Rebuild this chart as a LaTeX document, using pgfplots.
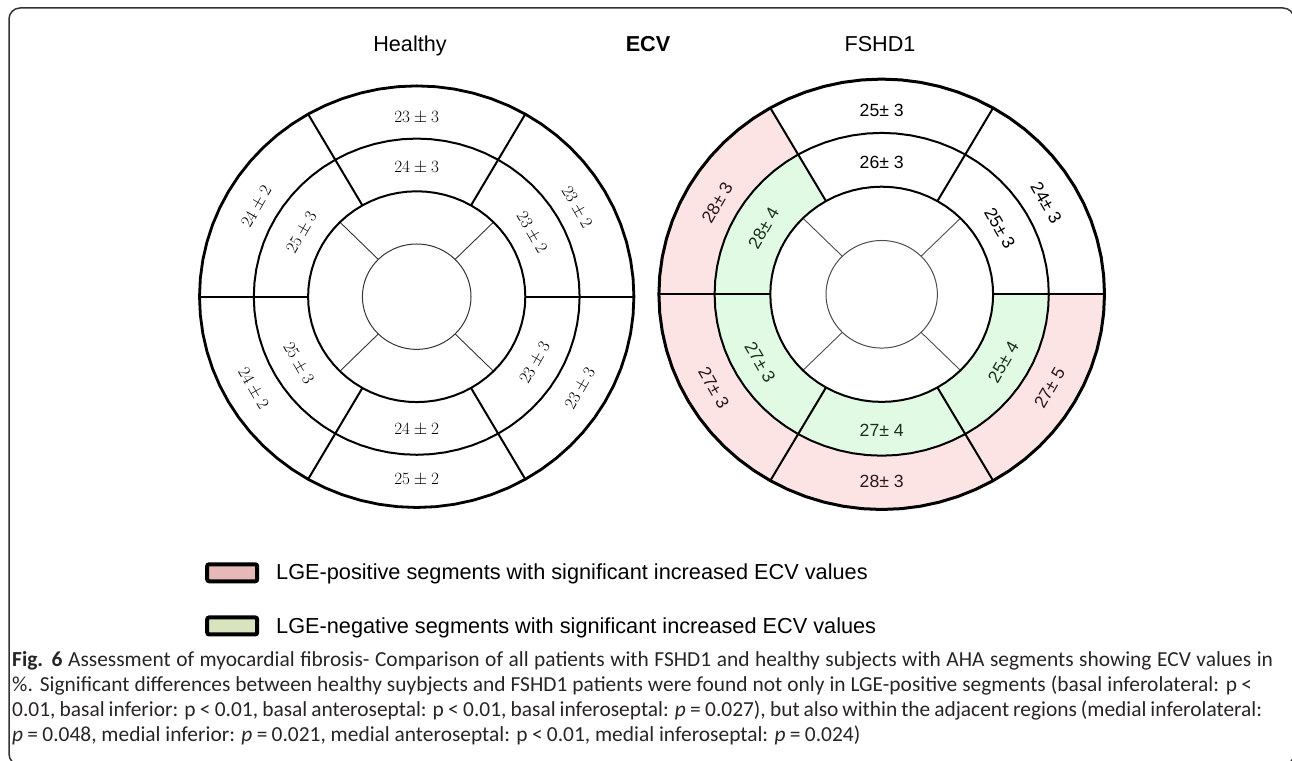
\documentclass[border=0pt]{standalone}
\usepackage[no-math]{fontspec}
\usepackage{pgfplots}
\usepackage{pgfplotstable}
\pgfplotsset{compat=1.18}
\usepgfplotslibrary{polar}
\newfontfamily\arial{Liberation Sans}
\newfontfamily\capfont{Carlito}
\definecolor{pinkfill}{RGB}{252,228,228}
\definecolor{greenfill}{RGB}{225,250,228}
\definecolor{lgpink}{RGB}{230,184,184}
\definecolor{lggreen}{RGB}{215,228,190}
\definecolor{pinktext}{RGB}{50,22,22}
\definecolor{greentext}{RGB}{22,52,28}
\definecolor{capgray}{RGB}{40,36,37}
\newcommand\pk{\color{pinktext}}
\newcommand\gr{\color{greentext}}
\newcommand\tsp{\hspace{0.2em}}

\pgfplotstableread{
a r1 r2 r3 r4
0 1 2 3 4
5 1 2 3 4
10 1 2 3 4
15 1 2 3 4
20 1 2 3 4
25 1 2 3 4
30 1 2 3 4
35 1 2 3 4
40 1 2 3 4
45 1 2 3 4
50 1 2 3 4
55 1 2 3 4
60 1 2 3 4
65 1 2 3 4
70 1 2 3 4
75 1 2 3 4
80 1 2 3 4
85 1 2 3 4
90 1 2 3 4
95 1 2 3 4
100 1 2 3 4
105 1 2 3 4
110 1 2 3 4
115 1 2 3 4
120 1 2 3 4
125 1 2 3 4
130 1 2 3 4
135 1 2 3 4
140 1 2 3 4
145 1 2 3 4
150 1 2 3 4
155 1 2 3 4
160 1 2 3 4
165 1 2 3 4
170 1 2 3 4
175 1 2 3 4
180 1 2 3 4
185 1 2 3 4
190 1 2 3 4
195 1 2 3 4
200 1 2 3 4
205 1 2 3 4
210 1 2 3 4
215 1 2 3 4
220 1 2 3 4
225 1 2 3 4
230 1 2 3 4
235 1 2 3 4
240 1 2 3 4
245 1 2 3 4
250 1 2 3 4
255 1 2 3 4
260 1 2 3 4
265 1 2 3 4
270 1 2 3 4
275 1 2 3 4
280 1 2 3 4
285 1 2 3 4
290 1 2 3 4
295 1 2 3 4
300 1 2 3 4
305 1 2 3 4
310 1 2 3 4
315 1 2 3 4
320 1 2 3 4
325 1 2 3 4
330 1 2 3 4
335 1 2 3 4
340 1 2 3 4
345 1 2 3 4
350 1 2 3 4
355 1 2 3 4
}\circtab

\pgfplotstableread[col sep=comma]{
a,r,rot,lab
90,3.40,0,$23\pm3$
30,3.40,-60,$23\pm2$
330,3.48,60,$23\pm3$
270,3.48,0,$25\pm2$
210,3.48,-60,$24\pm2$
150,3.40,60,$24\pm2$
90,2.44,0,$24\pm3$
30,2.44,-60,$23\pm2$
330,2.52,60,$23\pm3$
270,2.52,0,$24\pm2$
210,2.52,-60,$25\pm3$
150,2.44,60,$25\pm3$
}\htab

\pgfplotstableread[col sep=comma]{
a,r,rot,lab
90,3.41,0,25± 3
30,3.41,-60,24± 3
330,3.48,60,\pk 27± 5
270,3.48,0,\pk 28± 3
210,3.48,-60,\pk 27± 3
150,3.41,60,\pk 28± 3
90,2.45,0,26± 3
30,2.45,-60,25± 3
330,2.52,60,\gr 25± 4
270,2.52,0,\gr 27± 4
210,2.52,-60,\gr 27± 3
150,2.45,60,\gr 28± 4
}\ftab

\pgfplotsset{
  bullseye/.style={hide axis, clip=false, data cs=polar,
    xmin=-4.1, xmax=4.1, ymin=-4.1, ymax=4.1, anchor=center},
}

\begin{document}
\begin{tikzpicture}[x=1bp,y=1bp]
\path[use as bounding box] (0,0) rectangle (1292,761);
\draw[line width=1.5bp, black!80, rounded corners=11bp] (9,753) rectangle (1294,-4);

\node[anchor=base, font=\arial\fontsize{21.7}{26}\selectfont] at (410,709) {Healthy};
\node[anchor=base, font=\arial\bfseries\fontsize{21.7}{26}\selectfont] at (648,709) {ECV};
\node[anchor=base, font=\arial\fontsize{21.7}{26}\selectfont] at (880,709) {FSHD1};

% ---------------- Healthy ----------------
\begin{axis}[bullseye, x=54.3bp, y=52.7bp, at={(416.7bp,464.3bp)}]
\addplot[forget plot, line width=2bp] coordinates {(0,2) (0,4)};
\addplot[forget plot, line width=2bp] coordinates {(60,2) (60,4)};
\addplot[forget plot, line width=2bp] coordinates {(120,2) (120,4)};
\addplot[forget plot, line width=2bp] coordinates {(180,2) (180,4)};
\addplot[forget plot, line width=2bp] coordinates {(240,2) (240,4)};
\addplot[forget plot, line width=2bp] coordinates {(300,2) (300,4)};
\addplot[forget plot, line width=0.9bp, black!80] coordinates {(45,1) (45,2)};
\addplot[forget plot, line width=0.9bp, black!80] coordinates {(135,1) (135,2)};
\addplot[forget plot, line width=0.9bp, black!80] coordinates {(225,1) (225,2)};
\addplot[forget plot, line width=0.9bp, black!80] coordinates {(315,1) (315,2)};
\addplot[forget plot, line width=1bp, black!80] table[x=a,y=r1]{\circtab} -- cycle;
\addplot[forget plot, line width=2bp] table[x=a,y=r2]{\circtab} -- cycle;
\addplot[forget plot, line width=2bp] table[x=a,y=r3]{\circtab} -- cycle;
\addplot[forget plot, line width=2.8bp] table[x=a,y=r4]{\circtab} -- cycle;
\addplot[forget plot, only marks, mark=none, point meta=explicit symbolic,
  visualization depends on={\thisrow{rot} \as \rot},
  nodes near coords,
  nodes near coords style={anchor=center, rotate=\rot, inner sep=0pt,
    font=\fontsize{16.5}{19}\selectfont}]
  table[x=a,y=r,meta=lab]{\htab};
\end{axis}

% ---------------- FSHD1 ----------------
\begin{axis}[bullseye, x=55.7bp, y=53.8bp, at={(881.7bp,466.7bp)},
  legend cell align=left,
  legend style={draw=none, fill=none, inner sep=0pt, anchor=west,
    at={(-0.9816,-0.1915)},
    font=\arial\fontsize{21.8}{26}\selectfont,
    row sep=32bp,
    /tikz/every odd column/.append style={column sep=15bp}}]
\addplot[fill=pinkfill, draw=none,
  legend image code/.code={\draw[draw=black, line width=4bp, rounded corners=2bp, fill=lgpink] (0bp,-8.5bp) rectangle (50bp,8.5bp);}]
  coordinates {(120,4) (130,4) (140,4) (150,4) (160,4) (170,4) (180,4) (190,4) (200,4) (210,4) (220,4) (230,4) (240,4) (250,4) (260,4) (270,4) (280,4) (290,4) (300,4) (310,4) (320,4) (330,4) (340,4) (350,4) (360,4)
  (360,3) (350,3) (340,3) (330,3) (320,3) (310,3) (300,3) (290,3) (280,3) (270,3) (260,3) (250,3) (240,3) (230,3) (220,3) (210,3) (200,3) (190,3) (180,3) (170,3) (160,3) (150,3) (140,3) (130,3) (120,3)} -- cycle;
\addlegendentry{LGE-positive segments with significant increased ECV values}
\addplot[fill=greenfill, draw=none,
  legend image code/.code={\draw[draw=black, line width=4bp, rounded corners=2bp, fill=lggreen] (0bp,-8.5bp) rectangle (50bp,8.5bp);}]
  coordinates {(120,3) (130,3) (140,3) (150,3) (160,3) (170,3) (180,3) (190,3) (200,3) (210,3) (220,3) (230,3) (240,3) (250,3) (260,3) (270,3) (280,3) (290,3) (300,3) (310,3) (320,3) (330,3) (340,3) (350,3) (360,3)
  (360,2) (350,2) (340,2) (330,2) (320,2) (310,2) (300,2) (290,2) (280,2) (270,2) (260,2) (250,2) (240,2) (230,2) (220,2) (210,2) (200,2) (190,2) (180,2) (170,2) (160,2) (150,2) (140,2) (130,2) (120,2)} -- cycle;
\addlegendentry{LGE-negative segments with significant increased ECV values}
\addplot[forget plot, line width=2bp] coordinates {(0,2) (0,4)};
\addplot[forget plot, line width=2bp] coordinates {(60,2) (60,4)};
\addplot[forget plot, line width=2bp] coordinates {(120,2) (120,4)};
\addplot[forget plot, line width=2bp] coordinates {(180,2) (180,4)};
\addplot[forget plot, line width=2bp] coordinates {(240,2) (240,4)};
\addplot[forget plot, line width=2bp] coordinates {(300,2) (300,4)};
\addplot[forget plot, line width=0.9bp, black!70] coordinates {(45,1) (45,2)};
\addplot[forget plot, line width=0.9bp, black!70] coordinates {(135,1) (135,2)};
\addplot[forget plot, line width=0.9bp, black!70] coordinates {(225,1) (225,2)};
\addplot[forget plot, line width=0.9bp, black!70] coordinates {(315,1) (315,2)};
\addplot[forget plot, line width=1bp, black!70] table[x=a,y=r1]{\circtab} -- cycle;
\addplot[forget plot, line width=2bp] table[x=a,y=r2]{\circtab} -- cycle;
\addplot[forget plot, line width=2bp] table[x=a,y=r3]{\circtab} -- cycle;
\addplot[forget plot, line width=3bp] table[x=a,y=r4]{\circtab} -- cycle;
\addplot[forget plot, only marks, mark=none, point meta=explicit symbolic,
  visualization depends on={\thisrow{rot} \as \rot},
  nodes near coords,
  nodes near coords style={anchor=center, rotate=\rot, inner sep=0pt,
    font=\arial\fontsize{17.7}{21}\selectfont}]
  table[x=a,y=r,meta=lab]{\ftab};
\end{axis}

% ---------------- caption ----------------
\begin{scope}[every node/.style={anchor=base west, inner sep=0pt, text=capgray,
    font=\capfont\fontsize{21.5}{25}\selectfont}]
\node at (12,94) {\makebox[1261bp][s]{\textbf{Fig. 6} Assessment of myocardial fibrosis- Comparison of all patients with FSHD1 and healthy subjects with AHA segments showing ECV values in}};
\node at (12,69) {\makebox[1240bp][s]{\%. Significant differences between healthy suybjects and FSHD1 patients were found not only in LGE-positive segments (basal inferolateral: p\tsp<}};
\node at (12,44) {\makebox[1250bp][s]{0.01, basal inferior: p\tsp<\tsp0.01, basal anteroseptal: p\tsp<\tsp0.01, basal inferoseptal: \textit{p}\tsp=\tsp0.027), but also within the adjacent regions (medial inferolateral:}};
\node at (12,19) {\textit{p}\tsp=\tsp0.048, medial inferior: \textit{p}\tsp=\tsp0.021, medial anteroseptal: p\tsp<\tsp0.01, medial inferoseptal: \textit{p}\tsp=\tsp0.024)};
\end{scope}
\end{tikzpicture}
\end{document}
